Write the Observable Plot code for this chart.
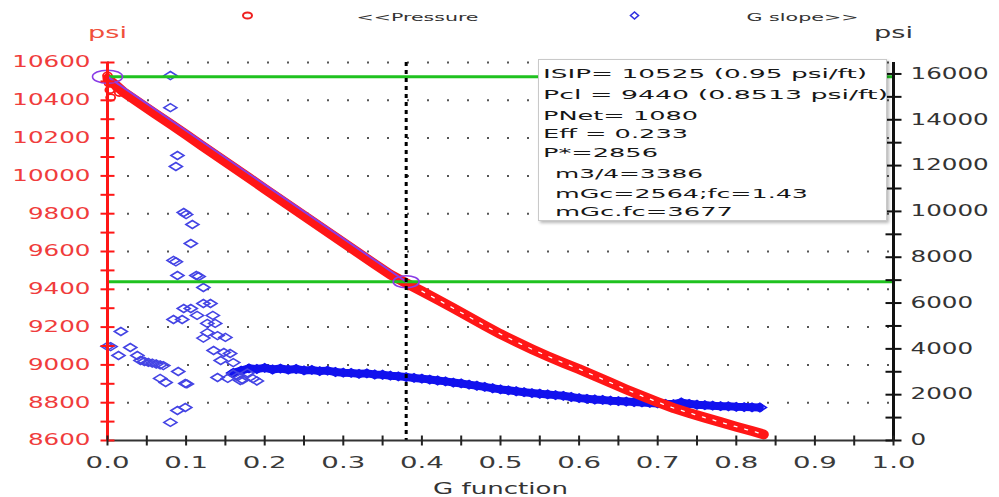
<!DOCTYPE html>
<html><head><meta charset="utf-8">
<script src="https://cdn.jsdelivr.net/npm/d3@7"></script>
<script src="https://cdn.jsdelivr.net/npm/@observablehq/plot@0.6"></script>
<style>
body{margin:0;background:#fff;}
#wrap{position:relative;width:999px;height:497px;overflow:hidden;background:#fff;}
#box{position:absolute;left:538px;top:59px;width:347px;height:160px;background:#fff;border:1px solid #c9c9c9;box-shadow:2px 2px 3px rgba(0,0,0,0.28);font-family:"DejaVu Sans";font-size:13px;color:#161616;}
#box div{position:absolute;white-space:nowrap;transform-origin:0 50%;line-height:1;}
</style></head><body><div id="wrap"></div>
<script>
// ---- data ----
const isip = 10525, pcl = 9440, closureG = 0.38;
const pressureG = [0.00,0.01,0.02,0.04,0.06,0.08,0.10,0.12,0.14,0.16,0.18,0.20,0.22,0.24,0.26,0.28,0.30,0.32,0.34,0.36,0.38,0.40,0.42,0.44,0.46,0.48,0.50,0.52,0.54,0.56,0.58,0.60,0.62,0.64,0.66,0.68,0.70,0.72,0.74,0.76,0.78,0.80,0.82,0.835];
const pressureP = [10515,10482,10445,10388,10331,10275,10218,10160,10103,10046,9989,9932,9875,9818,9761,9704,9647,9590,9533,9478,9433,9390,9345,9300,9254,9208,9163,9122,9083,9046,9011,8978,8942,8906,8870,8836,8803,8772,8746,8721,8697,8673,8650,8632];
const pressureStartG = [0.000,0.002,0.003,0.004,0.012,0.015];
const pressureStartP = [10530,10490,10455,10415,10470,10440];
const slopeBandG = [0.16,0.17,0.18,0.19,0.20,0.21,0.22,0.23,0.24,0.25,0.26,0.27,0.28,0.29,0.30,0.31,0.32,0.33,0.34,0.35,0.36,0.37,0.38,0.39,0.40,0.41,0.42,0.43,0.44,0.45,0.46,0.47,0.48,0.49,0.50,0.51,0.52,0.53,0.54,0.55,0.56,0.57,0.58,0.59,0.60,0.61,0.62,0.63,0.64,0.65,0.66,0.67,0.68,0.69,0.70,0.71,0.72,0.73,0.74,0.75,0.76,0.77,0.78,0.79,0.80,0.81,0.82,0.83];
const slopeBandV = [2950,3050,3150,3120,3170,3100,3140,3090,3120,3060,3080,3030,3050,2990,2960,2950,2910,2930,2880,2870,2830,2800,2770,2730,2700,2660,2620,2580,2530,2490,2440,2390,2340,2280,2230,2190,2150,2110,2070,2040,2010,1980,1950,1900,1850,1820,1790,1770,1740,1720,1700,1680,1660,1640,1620,1600,1590,1660,1600,1560,1540,1520,1500,1490,1470,1460,1450,1440];
const slopeScatterG = [0.000,0.004,0.017,0.014,0.029,0.038,0.042,0.047,0.052,0.057,0.062,0.067,0.071,0.067,0.074,0.080,0.080,0.089,0.087,0.097,0.100,0.108,0.106,0.084,0.087,0.089,0.113,0.116,0.122,0.122,0.131,0.097,0.106,0.114,0.134,0.084,0.095,0.127,0.137,0.122,0.150,0.090,0.099,0.101,0.089,0.099,0.080,0.127,0.140,0.135,0.148,0.156,0.144,0.160,0.140,0.153,0.169,0.160,0.166,0.172,0.178,0.185,0.190];
const slopeScatterV = [4110,4100,4760,3710,4060,3710,3490,3450,3410,3380,3340,3300,3270,2710,2530,15930,14530,12440,11960,9950,9860,9430,8600,7860,7800,7200,7200,7160,6680,5980,5980,5760,5760,5460,5460,5280,5280,5110,5110,4470,4500,3010,2490,2470,1310,1440,790,4710,4580,3930,3840,3800,3490,3400,2750,2710,2620,2900,2800,2650,2950,2700,2600];
const tangentG = [0, closureG];
const tangentP = [isip, pcl];
const leftTickLabels = d3.range(8600, 10601, 200);
const leftTickMarks = d3.range(8600, 10601, 100);
const rightTickLabels = d3.range(0, 16001, 2000);
const rightTickMarks = d3.range(0, 16001, 1000);
const xTickLabels = d3.range(0, 11).map(i => i / 10);
const xTickMarks = d3.range(0, 21).map(i => i / 20);
const gridLevels = d3.range(8800, 10601, 200);
const annotationLines = ["ISIP= 10525 (0.95 psi/ft)","Pcl = 9440 (0.8513 psi/ft)","PNet= 1080","Eff = 0.233","P*=2856"," m3/4=3386"," mGc=2564;fc=1.43"," mGc.fc=3677"];
const xTitle = "G function", unitLabel = "psi";
const legendLabels = ["<<Pressure", "G slope>>"];

// ---- helpers ----
const toLeft = v => 8600 + v * 2000 / 16500;
const fromLeft = p => (p - 8600) * 16500 / 2000;
const ellipse = (rx, ry) => ({draw(c){const k=0.5523;c.moveTo(rx,0);c.bezierCurveTo(rx,ry*k,rx*k,ry,0,ry);c.bezierCurveTo(-rx*k,ry,-rx,ry*k,-rx,0);c.bezierCurveTo(-rx,-ry*k,-rx*k,-ry,0,-ry);c.bezierCurveTo(rx*k,-ry,rx,-ry*k,rx,0);c.closePath();}});
const diamond = (w, h) => ({draw(c){c.moveTo(-w,0);c.lineTo(0,-h);c.lineTo(w,0);c.lineTo(0,h);c.closePath();}});
const hTick = w => ({draw(c){c.moveTo(-w,0);c.lineTo(w,0);}});
const vTick = h => ({draw(c){c.moveTo(0,-h);c.lineTo(0,h);}});

const pressure = pressureG.map((g, i) => ({g, p: pressureP[i]}));
const pressureStart = pressureStartG.map((g, i) => ({g, p: pressureStartP[i]}));
const band = slopeBandG.map((g, i) => ({g, v: slopeBandV[i]}));
const scatter = slopeScatterG.map((g, i) => ({g, v: slopeScatterV[i]}));
const tangent = tangentG.map((g, i) => ({g, p: tangentP[i]}));

const RED = "#ff1616", BLUE = "#1212ee";
const txt = {textAnchor: "middle", lineAnchor: "middle"};

const svg = Plot.plot({
  width: 999, height: 497,
  marginLeft: 107, marginRight: 106, marginTop: 62, marginBottom: 57,
  x: {domain: [0, 1]},
  y: {domain: [8600, 10600]},
  style: {fontFamily: "DejaVu Sans", fontSize: "15px", background: "white", overflow: "visible"},
  marks: [
    Plot.ruleY(gridLevels, {y: d => d, stroke: "#555", strokeWidth: 2, strokeDasharray: "2,18"}),
    Plot.line(band, {x: "g", y: d => toLeft(d.v), stroke: BLUE, strokeWidth: 8, strokeLinejoin: "round"}),
    Plot.dot(band, {x: "g", y: d => toLeft(d.v), symbol: diamond(6.5, 4.2), stroke: BLUE, strokeWidth: 1.6, fill: "none"}),
    Plot.dot(scatter, {x: "g", y: d => toLeft(d.v), symbol: diamond(6.5, 4), stroke: "#4444e4", strokeWidth: 1.6, fill: "none"}),
    Plot.line(pressure, {x: "g", y: "p", stroke: RED, strokeWidth: 10, strokeLinecap: "round", strokeLinejoin: "round"}),
    Plot.line(pressure.filter(d => d.g >= 0.4), {x: "g", y: "p", stroke: "white", strokeWidth: 1.3, strokeDasharray: "3,8"}),
    Plot.dot(pressureStart, {x: "g", y: "p", symbol: ellipse(4.5, 3.3), stroke: RED, strokeWidth: 1.8, fill: "none"}),
    Plot.ruleY([isip, pcl], {y: d => d, stroke: "#1fc21f", strokeWidth: 3}),
    Plot.line(tangent, {x: "g", y: "p", stroke: "#8a3ce6", strokeWidth: 2}),
    Plot.dot([tangent[0]], {x: "g", y: "p", symbol: ellipse(15, 6.5), stroke: "#8a3ce6", strokeWidth: 1.6, fill: "none"}),
    Plot.dot([tangent[1]], {x: "g", y: "p", symbol: ellipse(13, 6), stroke: "#8a3ce6", strokeWidth: 1.6, fill: "none"}),
    Plot.ruleX([closureG], {x: d => d, stroke: "#000", strokeWidth: 3, strokeDasharray: "4,4"}),
    Plot.ruleY([8600], {y: d => d, stroke: "#333", strokeWidth: 2}),
    Plot.ruleX([0], {x: d => d, stroke: RED, strokeWidth: 3}),
    Plot.ruleX([1], {x: d => d, stroke: "#111", strokeWidth: 3}),
    Plot.dot(leftTickMarks, {y: d => d, frameAnchor: "left", symbol: hTick(7), stroke: RED, strokeWidth: 2, fill: "none"}),
    Plot.dot(rightTickMarks, {y: d => toLeft(d), frameAnchor: "right", symbol: hTick(8), stroke: "#111", strokeWidth: 2, fill: "none"}),
    Plot.dot(xTickMarks, {x: d => d, frameAnchor: "bottom", symbol: vTick(5), stroke: "#222", strokeWidth: 2, fill: "none"}),
    Plot.axisY(leftTickLabels, {anchor: "left", tickSize: 0, tickPadding: 17, fill: "#f03c3c", fontSize: 15, tickFormat: d3.format("d"), label: null}),
    Plot.axisY(rightTickLabels.map(toLeft), {anchor: "right", tickSize: 0, tickPadding: 17, fill: "#333", fontSize: 15, tickFormat: d => String(Math.round(fromLeft(d))), label: null}),
    Plot.axisX(xTickLabels, {anchor: "bottom", tickSize: 0, tickPadding: 17, fill: "#3a3a3a", fontSize: 15, tickFormat: d3.format(".1f"), label: null}),
    Plot.text([xTitle], {...txt, frameAnchor: "bottom", dy: 49, fill: "#333", fontSize: 15}),
    Plot.text([unitLabel], {...txt, frameAnchor: "top-left", dy: -29, fill: "#f0503c", fontSize: 15}),
    Plot.text([unitLabel], {...txt, frameAnchor: "top-right", dy: -29, fill: "#333", fontSize: 15}),
    Plot.dot([legendLabels[0]], {frameAnchor: "top-left", dx: 140, dy: -47, symbol: ellipse(4.5, 3), stroke: "#ee2020", strokeWidth: 2, fill: "none"}),
    Plot.text([legendLabels[0]], {...txt, frameAnchor: "top-left", dx: 310, dy: -45, fill: "#333", fontSize: 10.5}),
    Plot.dot([legendLabels[1]], {frameAnchor: "top-left", dx: 527, dy: -47, symbol: diamond(4, 3.5), stroke: "#3030e0", strokeWidth: 1.6, fill: "none"}),
    Plot.text([legendLabels[1]], {...txt, frameAnchor: "top-left", dx: 695, dy: -45, fill: "#333", fontSize: 10.5})
  ]
});

const wrap = document.getElementById("wrap");
wrap.append(svg);

// stretch text horizontally like the reference
const targets = {"psi": 39, "<<Pressure": 122, "G slope>>": 112, "G function": 135};
svg.querySelectorAll("text").forEach(t => {
  const c = t.textContent;
  const w = t.getComputedTextLength();
  let L = null;
  if (targets[c]) L = targets[c];
  else if (/^\d+\.\d$/.test(c)) L = w * 1.84;
  else if (/^\d+$/.test(c)) L = w * 1.64;
  if (L) { t.setAttribute("textLength", L); t.setAttribute("lengthAdjust", "spacingAndGlyphs"); }
});

// annotation box
const box = document.createElement("div");
box.id = "box";
wrap.append(box);
const lineY = [13, 34, 55, 73, 92, 113, 133, 151];
const lineW = [324, 345, 155, 145, 115, 148, 253, 178];
annotationLines.forEach((s, i) => {
  const d = document.createElement("div");
  d.textContent = s.trim();
  d.style.left = (s.startsWith(" ") ? 16 : 4) + "px";
  d.style.top = lineY[i] + "px";
  box.append(d);
  const w = d.getBoundingClientRect().width;
  d.style.transform = `translateY(-50%) scaleX(${lineW[i] / w})`;
});
</script>
</body></html>
